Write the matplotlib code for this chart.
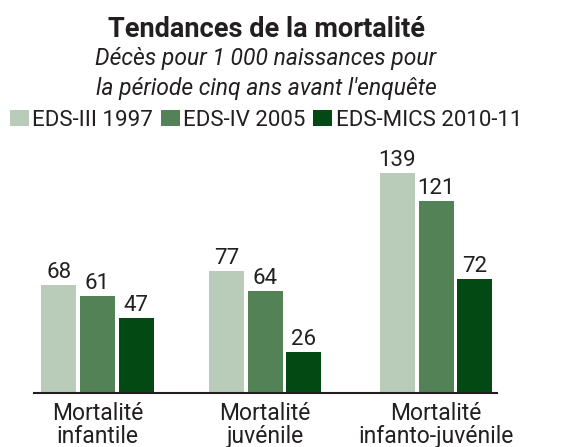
import matplotlib
matplotlib.use("Agg")
import matplotlib.pyplot as plt
import numpy as np
from matplotlib.patches import Patch

categories = ["Mortalité\ninfantile", "Mortalité\njuvénile", "Mortalité\ninfanto-juvénile"]
series_names = ["EDS-III 1997", "EDS-IV 2005", "EDS-MICS 2010-11"]
values = {
    "EDS-III 1997": [68, 77, 139],
    "EDS-IV 2005": [61, 64, 121],
    "EDS-MICS 2010-11": [47, 26, 72],
}
colors = ["#B9CCB9", "#538257", "#024913"]
text_color = "#231F20"

plt.rcParams['font.family'] = ['Roboto', 'DejaVu Sans']

W, H = 561, 447
fig = plt.figure(figsize=(W / 100, H / 100), dpi=100)
ax_left, ax_right = 34 / W, 497 / W
ax_bottom = (H - 392.7) / H
ax_top = (H - 150) / H
ax = fig.add_axes([ax_left, ax_bottom, ax_right - ax_left, ax_top - ax_bottom])

x = np.array([0, 0.99, 2.0])
bw = 35 / 169
pitch = 38.5 / 169
for i, name in enumerate(series_names):
    xs = x + (i - 1) * pitch
    ax.bar(xs, values[name], width=bw, color=colors[i], label=name)
    for xi, v in zip(xs, values[name]):
        ax.text(xi, v + 1.2, str(v), ha='center', va='bottom', fontsize=16,
                color=text_color)

ax.set_xlim(-0.375, 2.36)
ax.set_ylim(0, (392.7 - 150) / 1.583)
for s in ["top", "right", "left"]:
    ax.spines[s].set_visible(False)
ax.spines["bottom"].set_color(text_color)
ax.spines["bottom"].set_linewidth(1.5)
ax.set_yticks([])
ax.set_xticks(x)
ax.set_xticklabels(categories, fontsize=16.5, color=text_color, linespacing=1.0)
ax.tick_params(axis='x', length=0, pad=7)

cx = 266 / W
fig.text(cx, 1 - 36.7 / H, "Tendances de la mortalité", ha='center', va='baseline',
         fontsize=19.5, fontweight='bold', color=text_color)
fig.text(cx, 1 - 65.5 / H, "Décès pour 1 000 naissances pour", ha='center', va='baseline',
         fontsize=16.5, style='italic', color=text_color)
fig.text(cx, 1 - 94.5 / H, "la période cinq ans avant l'enquête", ha='center', va='baseline',
         fontsize=16.5, style='italic', color=text_color)

handles = [Patch(facecolor=c, edgecolor='none') for c in colors]
leg = fig.legend(handles, series_names, loc='center', bbox_to_anchor=(cx, 1 - 120 / H),
                 ncol=3, frameon=False, fontsize=16, handlelength=0.85, handleheight=0.75,
                 handletextpad=0.15, columnspacing=0.35, borderpad=0, labelcolor=text_color)

fig.savefig("out.png", dpi=100)
